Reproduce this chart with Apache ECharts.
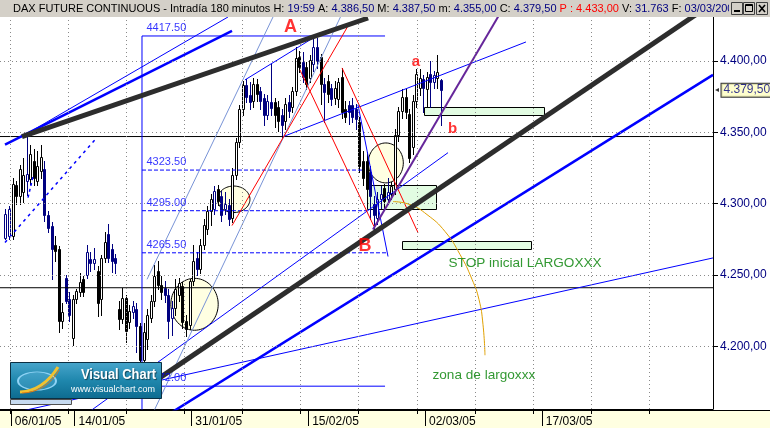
<!DOCTYPE html>
<html>
<head>
<meta charset="utf-8">
<title>DAX Future Continuous</title>
<script src="https://cdn.jsdelivr.net/npm/echarts@6.0.0/dist/echarts.min.js"></script>
<style>
html,body{margin:0;padding:0;background:#ffffff;overflow:hidden}
#chart{width:770px;height:428px}
</style>
</head>
<body>
<div id="chart"></div>
<script>
// ---------------- data ----------------
// 180-minute bars, 3 per trading day; day 0 = 06/01/05
const BAR_OPEN = [4276,4277,4277,4313,4305,4308,4316,4317,4330,4316,
4323,4324,4292,4284,4271,4268,4218,4248,4233,4206,
4233,4238,4247,4250,4261,4258,4253,4233,4262,4279,
4268,4262,4226,4219,4234,4217,4224,4226,4214,4190,
4205,4220,4232,4253,4243,4241,4236,4220,4227,4236,
4242,4218,4215,4246,4262,4254,4271,4282,4295,4296,
4310,4305,4296,4299,4290,4320,4343,4366,4383,4376,
4372,4384,4379,4374,4362,4371,4371,4368,4362,4358,
4371,4368,4379,4403,4399,4396,4388,4398,4410,4403,
4384,4386,4381,4374,4373,4389,4366,4369,4369,4366,
4357,4330,4330,4322,4300,4290,4303,4311,4303,4307,
4310,4348,4365,4375,4363,4340,4372,4381,4387,4380,
4391,4385,4388,4386.5];
const BAR_HIGH = [4296,4298,4318,4316,4327,4332,4348,4341,4338,4337,
4341,4330,4295,4287,4277,4270,4230,4250,4238,4236,
4240,4251,4249,4271,4266,4269,4256,4264,4280,4286,
4272,4265,4232,4241,4236,4229,4232,4230,4216,4216,
4226,4236,4257,4260,4249,4246,4240,4232,4247,4248,
4245,4222,4247,4271,4266,4275,4289,4298,4307,4312,
4313,4309,4308,4303,4325,4346,4369,4386,4387,4385,
4388,4387,4382,4377,4376,4398,4374,4372,4366,4374,
4376,4382,4410,4407,4406,4399,4404,4417.5,4416,4405,
4388,4390,4384,4386,4388,4395,4372,4372,4374,4370,
4361,4337,4336,4326,4305,4308,4312,4314,4318,4315,
4352,4368,4380,4380,4366,4376,4394,4394,4390,4392,
4400,4393,4404,4387.5];
const BAR_LOW = [4275,4275,4275,4300,4300,4301,4306,4314,4313,4313,
4318,4288,4280,4247,4260,4210,4213,4230,4218,4201,
4230,4235,4235,4248,4253,4254,4221,4222,4259,4259,
4252,4251,4212,4216,4203,4213,4220,4196,4172,4184,
4198,4217,4228,4240,4233,4231,4206,4208,4222,4232,
4213,4207,4212,4243,4250,4251,4268,4279,4285,4293,
4299,4288,4293,4285,4287,4317,4340,4362,4371,4366,
4368,4372,4366,4355,4359,4362,4354,4351,4347,4352,
4361,4364,4376,4392,4385,4380,4385,4393,4395,4370,
4357,4371,4369,4370,4368,4360,4357,4356,4357,4352,
4322,4313,4305,4289,4281,4286,4297,4297,4300,4303,
4307,4344,4360,4360,4329,4335,4368,4376,4364,4368,
4368,4381,4381,4355];
const BAR_CLOSE = [4293,4296,4314,4305,4324,4320,4321,4335,4318,4326,
4333,4292,4283,4268,4267,4218,4224,4232,4222,4233,
4238.5,4245,4238,4266,4258,4261,4230,4262,4273,4262,
4260,4258,4219,4234,4211,4225,4228,4214,4190,4210,
4222,4232,4249,4243,4238,4236,4218,4227,4240,4244,
4217,4212,4246,4260,4254,4271,4285,4295,4303,4309,
4302,4292,4300,4289,4320,4343,4366,4383,4375,4371,
4384,4377,4372,4362,4372,4367,4362,4358,4355,4370,
4365,4379,4402,4396,4389,4384,4401,4410,4400,4384,
4378,4377,4373,4381,4385,4364,4361,4364,4361,4359,
4326,4318,4310,4305,4292,4303,4307,4302,4308,4312,
4348,4365,4375,4364,4332,4372,4391,4388,4381,4389,
4385,4390,4392,4379.5];
// 1 = bar drawn in navy, 0 = bar drawn in black
const BAR_NAVY = [1,1,0,0,0,0,1,0,0,0,
0,1,1,1,0,0,0,1,1,0,
0,0,0,1,1,1,0,0,0,1,
1,1,0,0,0,0,1,1,0,0,
0,0,0,0,0,1,1,1,0,0,
0,0,0,0,1,0,0,0,0,1,
0,1,1,1,0,0,0,0,1,1,
0,0,1,1,1,1,0,0,1,0,
1,0,0,0,1,0,0,1,1,0,
1,0,1,0,0,0,0,1,1,1,
0,0,0,1,1,1,1,0,1,0,
0,0,0,0,0,0,0,0,1,0,
1,1,0,1];

const DATE_DAYS = [0, 6, 17, 28, 39, 50];
const DATE_LABELS = ['06/01/05', '14/01/05', '31/01/05', '15/02/05', '02/03/05', '17/03/05'];
const PRICE_TICKS = [4200, 4250, 4300, 4350, 4400];
const GRID_DAYS = [-0.075, 5.386, 10.847, 16.309, 21.77, 27.23, 32.69, 38.25, 43.71, 49.17, 54.63, 60.09];

const FIB_LEVELS = [4417.5, 4323.5, 4295.0, 4265.5, 4172.0];
const FIB_LABELS = ['4417.50', '4323.50', '4295.00', '4265.50', '4172.00'];
const FIB_START = 12.354;
const FIB_ENDS = [35.24, 33.07, 33.54, 35.52, 35.24];
const SUPPORT_LEVELS = [4347, 4241];

const TRENDS = {
  thickUpper:  [[1.05, 4347], [33.64, 4430.1]],
  thickLower:  [[12.17, 4168.5], [65.37, 4436.8]],
  blueFan:     [[-0.546, 4341.3], [20.83, 4421.0]],
  blueFanThin: [[0.866, 4346.2], [20.45, 4430.8]],
  blueLower:   [[14.52, 4150.7], [66.12, 4390.2]],
  thinLong:    [[0.866, 4154.3], [66.12, 4261.9]],
  thinMid:     [[7.27, 4153.4], [41.17, 4335.7]],
  thinTop:     [[25.63, 4346.9], [48.51, 4413.3]],
  thinChannel: [[22.05, 4386.7], [28.93, 4418.2]],
  steelA:      [[12.825, 4246.9], [24.69, 4430.8]],
  steelB:      [[13.39, 4153.2], [31.09, 4431.6]],
  redUp:       [[20.83, 4284.6], [31.75, 4424.5]],
  redDown1:    [[31.19, 4395.1], [38.34, 4279.7]],
  redDown2:    [[27.23, 4393.7], [34.20, 4283.9]],
  blueDrop:    [[32.69, 4369.2], [35.52, 4262.9]],
  purple:      [[34.105, 4281.8], [46.06, 4433.2]],
  dashDiag:    [[-0.546, 4272.7], [7.93, 4344.8]],
  dashShort:   [[1.62, 4304.2], [2.09, 4318.9]],
  fibSpine:    [[12.354, 4417.5], [12.354, 4150]]
};
// [dayFrom, priceLow, dayTo, priceHigh]
const ZONES = [[38.91, 4361.7, 50.21, 4367.6], [33.51, 4296.3, 40.01, 4312.8], [36.81, 4268.3, 48.92, 4273.6]];
// [day, price, radiusDays, radiusPrice]
const CIRCLES = [[17.30, 4229.4, 2.23, 18.2], [20.99, 4303.0, 1.53, 9.3], [35.31, 4328.5, 1.65, 14.0]];
const ARC = [[35.99, 4301.4], [37.59, 4299.3], [39.19, 4292.3], [40.89, 4280.4], [42.30, 4264.3],
             [43.43, 4246.9], [44.08, 4232.9], [44.46, 4215.4], [44.65, 4193.7]];
const NOTES_BIG = [['A', 26.34, 4423.8], ['B', 33.35, 4270.1]];
const NOTES_SMALL = [['a', 38.15, 4399.7], ['b', 41.59, 4352.1]];
const NOTES_GREEN = [['STOP inicial LARGOXXX', 41.17, 4258.0], ['zona de largoxxx', 39.66, 4179.7]];

const TITLE_NAME = 'DAX FUTURE CONTINUOUS - Intradía 180 minutos';
const TITLE_FIELDS = [['H:', '19:59'], ['A:', '4.386,50'], ['M:', '4.387,50'], ['m:', '4.355,00'], ['C:', '4.379,50']];
const TITLE_PREV = 'P : 4.433,00';
const TITLE_TAIL = [['V:', '31.763'], ['F:', '03/03/2005']];

// ---------------- layout / style ----------------
const X_MIN = -1.017, X_MAX = 66.121;
const Y_MIN = 4156.0, Y_MAX = 4430.8;
const FONT = 'Liberation Sans, Arial, sans-serif';

const TREND_STYLE = {
  thickUpper:  {color: '#2d2d2d', width: 5},
  thickLower:  {color: '#2d2d2d', width: 5},
  blueFan:     {color: '#0000ff', width: 2.5},
  blueFanThin: {color: '#0000ff', width: 1},
  blueLower:   {color: '#0000ff', width: 2.5},
  thinLong:    {color: '#0000ff', width: 1},
  thinMid:     {color: '#0000ff', width: 1},
  thinTop:     {color: '#0000ff', width: 1},
  thinChannel: {color: '#0000ff', width: 1},
  steelA:      {color: '#7893d6', width: 1},
  steelB:      {color: '#7893d6', width: 1},
  redUp:       {color: '#ff0000', width: 1},
  redDown1:    {color: '#ff0000', width: 1},
  redDown2:    {color: '#ff0000', width: 1},
  blueDrop:    {color: '#0000ff', width: 1},
  purple:      {color: '#66269a', width: 2},
  dashDiag:    {color: '#0000ff', width: 1.5, type: [3, 4]},
  dashShort:   {color: '#0000ff', width: 1.5, type: [3, 3]},
  fibSpine:    {color: '#0000ff', width: 1}
};

function fmtPrice(v) {
  const s = Number(v).toFixed(2).split('.');
  return s[0].replace(/\B(?=(\d{3})+(?!\d))/g, '.') + ',' + s[1];
}

function lineSeries(data, st, z) {
  return {
    type: 'line', data: data, showSymbol: false, symbol: 'none', silent: true, clip: true,
    z: z, animation: false,
    lineStyle: {color: st.color, width: st.width, type: st.type || 'solid'}
  };
}

const candleData = BAR_OPEN.map((o, i) => [(i - 1.5) / 3, o, BAR_CLOSE[i], BAR_LOW[i], BAR_HIGH[i], BAR_NAVY[i]]);

function renderCandle(params, api) {
  const x = api.value(0), o = api.value(1), c = api.value(2), l = api.value(3), h = api.value(4);
  const navy = api.value(5);
  const pO = api.coord([x, o]), pC = api.coord([x, c]), pL = api.coord([x, l]), pH = api.coord([x, h]);
  const cx = Math.round(pO[0]);
  const col = navy ? '#000080' : '#000000';
  const up = c >= o;
  const top = Math.round(Math.min(pO[1], pC[1])) + 0.5;
  const bot = Math.round(Math.max(pO[1], pC[1])) + 0.5;
  return {
    type: 'group',
    children: [
      {type: 'line', shape: {x1: cx + 0.5, y1: Math.round(pH[1]), x2: cx + 0.5, y2: Math.round(pL[1]) + 1},
       style: {stroke: col, lineWidth: 1}},
      {type: 'rect', shape: {x: cx - 0.5, y: top, width: 2, height: Math.max(bot - top, 1)},
       style: {fill: up ? '#ffffff' : col, stroke: col, lineWidth: 1}}
    ]
  };
}

function renderCircle(params, api) {
  const c = api.coord([api.value(0), api.value(1)]);
  const s = api.size([api.value(2), api.value(3)]);
  const pts = [];
  for (let k = 0; k < 72; k++) {
    const a = k / 72 * Math.PI * 2;
    pts.push([c[0] + s[0] * Math.cos(a), c[1] + s[1] * Math.sin(a)]);
  }
  return {type: 'polygon', shape: {points: pts}, style: {fill: '#ffffe2', stroke: '#000000', lineWidth: 1}};
}

function renderZone(params, api) {
  const p1 = api.coord([api.value(0), api.value(3)]);
  const p2 = api.coord([api.value(2), api.value(1)]);
  const x = Math.round(p1[0]) + 0.5, y = Math.round(p1[1]) + 0.5;
  return {type: 'rect', shape: {x: x, y: y, width: Math.round(p2[0] - p1[0]), height: Math.round(p2[1] - p1[1])},
          style: {fill: '#e2fce2', stroke: '#000000', lineWidth: 1}};
}

function noteSeries(list, label, z) {
  return {
    type: 'scatter', symbolSize: 1, silent: true, z: z, animation: false, clip: false,
    itemStyle: {color: 'transparent'},
    data: list.map(n => ({name: n[0], value: [n[1], n[2]]})),
    label: Object.assign({show: true, formatter: '{b}', fontFamily: FONT}, label)
  };
}

const series = [];
// dotted grid
series.push({
  type: 'line', data: [], silent: true, z: 1, animation: false,
  markLine: {
    silent: true, symbol: ['none', 'none'], animation: false, label: {show: false},
    lineStyle: {color: '#8a8a8a', width: 1, type: [1, 3]},
    emphasis: {disabled: true},
    data: PRICE_TICKS.map(v => ({yAxis: v})).concat(GRID_DAYS.map(v => ({xAxis: v})))
  }
});
series.push({type: 'custom', renderItem: renderCircle, data: CIRCLES, z: 2, silent: true, clip: true, animation: false, encode: {x: 0, y: 1}});
series.push({type: 'custom', renderItem: renderZone, data: ZONES, z: 2, silent: true, clip: true, animation: false, encode: {x: 0, y: 1}});
series.push({type: 'custom', renderItem: renderCandle, data: candleData, z: 3, silent: true, clip: true, animation: false, encode: {x: 0, y: [1, 2, 3, 4]}});
// support lines
SUPPORT_LEVELS.forEach(v => series.push(lineSeries([[X_MIN, v], [X_MAX, v]], {color: '#000000', width: 1}, 4)));
// fibonacci lines
FIB_LEVELS.forEach((v, k) => {
  const dashed = k > 0 && k < FIB_LEVELS.length - 1;
  series.push(lineSeries([[FIB_START, v], [FIB_ENDS[k], v]], {color: '#0000ff', width: 1, type: dashed ? [4, 2] : 'solid'}, 4));
});
Object.keys(TRENDS).forEach(k => {
  const st = TREND_STYLE[k];
  series.push(lineSeries(TRENDS[k], st, st.width >= 5 ? 5 : 4));
});
series.push(Object.assign(lineSeries(ARC, {color: '#e0a000', width: 1}, 4), {smooth: true}));
// notes
series.push(noteSeries(NOTES_BIG, {position: 'inside', color: '#ff0000', fontSize: 18, fontWeight: 'bold'}, 6));
series.push(noteSeries(NOTES_SMALL, {position: 'inside', color: '#ff0000', fontSize: 15, fontWeight: 'bold'}, 6));
series.push(noteSeries(NOTES_GREEN, {position: 'right', distance: 0, color: '#008000', fontSize: 13.6}, 6));
series.push(noteSeries(FIB_LEVELS.map((v, k) => [FIB_LABELS[k], FIB_START, v]),
  {position: 'right', distance: 4, offset: [0, -8], color: '#0000ff', fontSize: 11}, 6));
// last price tag on the price axis
const LAST = BAR_CLOSE[BAR_CLOSE.length - 1];
series.push(noteSeries([[fmtPrice(LAST), X_MAX, LAST]],
  {position: 'right', distance: 8, color: '#000080', fontSize: 12, backgroundColor: '#ffffc0',
   borderColor: '#000000', borderWidth: 1, padding: [1, 2, 0, 2]}, 7));
series.push(noteSeries([['◂', X_MAX, LAST]], {position: 'right', distance: 1, color: '#000000', fontSize: 8}, 7));

const titleRich = '{k|' + TITLE_NAME + ' }' +
  TITLE_FIELDS.map(f => '{k|' + f[0] + ' }{v|' + f[1] + '}').join('{k| }') +
  '{k| }{r|' + TITLE_PREV + '}{k| }' +
  TITLE_TAIL.map(f => '{k|' + f[0] + ' }{v|' + f[1] + '}').join('{k| }');

const TOP = 100;
const option = {
  backgroundColor: '#ffffff',
  animation: false,
  grid: {left: 0, right: 57, top: 17, bottom: 18, containLabel: false},
  xAxis: [
    {
      type: 'value', min: X_MIN, max: X_MAX, position: 'bottom',
      axisLine: {show: true, onZero: false, lineStyle: {color: '#000000', width: 1}},
      splitLine: {show: false},
      axisTick: {show: true, customValues: DATE_DAYS, length: 17, lineStyle: {color: '#000000'}},
      axisLabel: {
        show: true, customValues: DATE_DAYS, align: 'left', margin: 7,
        padding: [0, 0, 0, 4], color: '#000000', fontSize: 12, fontFamily: FONT,
        formatter: v => { const k = DATE_DAYS.indexOf(Math.round(v)); return k >= 0 ? DATE_LABELS[k] : ''; }
      }
    },
    {
      type: 'value', min: X_MIN, max: X_MAX, position: 'bottom',
      axisLine: {show: false, onZero: false}, splitLine: {show: false},
      axisTick: {show: true, customValues: GRID_DAYS, length: 5, lineStyle: {color: '#000000'}},
      axisLabel: {show: false}
    }
  ],
  yAxis: [{
    type: 'value', min: Y_MIN, max: Y_MAX, position: 'right', scale: true,
    axisLine: {show: true, onZero: false, lineStyle: {color: '#000000', width: 1}},
    splitLine: {show: false},
    axisTick: {show: true, customValues: PRICE_TICKS, length: 5, lineStyle: {color: '#000000'}},
    axisLabel: {show: true, customValues: PRICE_TICKS, margin: 7, color: '#000080', fontSize: 12, fontFamily: FONT,
                formatter: v => fmtPrice(v)}
  }],
  series: series,
  graphic: [
    // bottom date strip
    {type: 'rect', z: -5, shape: {x: 0, y: 410, width: 770, height: 18}, style: {fill: '#ffffe1'}, silent: true},
    {type: 'line', z: -4, shape: {x1: 0, y1: 410.5, x2: 770, y2: 410.5}, style: {stroke: '#000000', lineWidth: 1}, silent: true},
    // title bar
    {type: 'rect', z: TOP, shape: {x: 0, y: 0, width: 770, height: 17}, style: {fill: '#d4d0c8'}, silent: true},
    {type: 'text', z: TOP + 1, x: 13, y: 8.5, silent: true,
     style: {text: titleRich, verticalAlign: 'middle', font: '11px ' + FONT,
             rich: {k: {fill: '#000000', font: '11px ' + FONT}, v: {fill: '#000080', font: '11px ' + FONT}, r: {fill: '#ff0000', font: '11px ' + FONT}}}},
    {type: 'rect', z: TOP + 2, shape: {x: 729, y: 0, width: 41, height: 17}, style: {fill: '#d4d0c8'}, silent: true},
    {type: 'rect', z: TOP + 3, shape: {x: 731.5, y: 2.5, width: 11, height: 12}, style: {fill: '#d4d0c8', stroke: '#404040', lineWidth: 1}, silent: true},
    {type: 'rect', z: TOP + 4, shape: {x: 734, y: 10, width: 6, height: 2}, style: {fill: '#000000'}, silent: true},
    {type: 'rect', z: TOP + 3, shape: {x: 743.5, y: 2.5, width: 11, height: 12}, style: {fill: '#d4d0c8', stroke: '#404040', lineWidth: 1}, silent: true},
    {type: 'rect', z: TOP + 4, shape: {x: 745.5, y: 4.5, width: 7, height: 7}, style: {fill: 'none', stroke: '#000000', lineWidth: 1}, silent: true},
    {type: 'line', z: TOP + 4, shape: {x1: 745.5, y1: 5.5, x2: 752.5, y2: 5.5}, style: {stroke: '#000000', lineWidth: 1}, silent: true},
    {type: 'rect', z: TOP + 3, shape: {x: 756.5, y: 2.5, width: 11, height: 12}, style: {fill: '#d4d0c8', stroke: '#404040', lineWidth: 1}, silent: true},
    {type: 'line', z: TOP + 4, shape: {x1: 759, y1: 5, x2: 765, y2: 12}, style: {stroke: '#000000', lineWidth: 1.6}, silent: true},
    {type: 'line', z: TOP + 4, shape: {x1: 765, y1: 5, x2: 759, y2: 12}, style: {stroke: '#000000', lineWidth: 1.6}, silent: true},
    // Visual Chart watermark
    {type: 'rect', z: TOP, silent: true, shape: {x: 10.5, y: 399.5, width: 61, height: 5}, style: {fill: '#c6daf0', stroke: '#505050', lineWidth: 1}},
    {type: 'rect', z: TOP + 1, silent: true, shape: {x: 10.5, y: 362.5, width: 151, height: 36},
     style: {fill: new echarts.graphic.LinearGradient(0, 0, 0, 1, [
       {offset: 0, color: '#48a6cc'}, {offset: 0.5, color: '#1f87ad'}, {offset: 1, color: '#0d6b8f'}]),
       stroke: '#0b2f42', lineWidth: 1}},
    {type: 'circle', z: TOP + 2, silent: true, x: 37, y: 381, scaleY: 0.48, shape: {cx: 0, cy: 0, r: 19},
     style: {fill: 'rgba(120,200,240,0.25)', stroke: '#8fd3f5', lineWidth: 2}},
    {type: 'bezierCurve', z: TOP + 3, silent: true, shape: {x1: 20, y1: 392, cpx1: 38, cpy1: 391, cpx2: 50, cpy2: 380, x2: 58, y2: 367},
     style: {stroke: '#f2c230', lineWidth: 3, fill: 'none'}},
    {type: 'bezierCurve', z: TOP + 3, silent: true, shape: {x1: 22, y1: 393, cpx1: 38, cpy1: 393, cpx2: 52, cpy2: 383, x2: 59, y2: 370},
     style: {stroke: '#e07a10', lineWidth: 1, fill: 'none'}},
    {type: 'text', z: TOP + 3, silent: true, x: 71, y: 374.5, scaleX: 0.86, originX: 71,
     style: {text: 'Visual Chart', font: 'bold 15px ' + FONT, fill: '#ffffff', verticalAlign: 'middle',
             textShadowColor: 'rgba(0,0,0,0.5)', textShadowBlur: 1, textShadowOffsetX: 1, textShadowOffsetY: 1}},
    {type: 'text', z: TOP + 3, silent: true, x: 71, y: 389.5,
     style: {text: 'www.visualchart.com', font: '9px ' + FONT, fill: '#ffffff', verticalAlign: 'middle'}}
  ]
};

const chart = echarts.init(document.getElementById('chart'), null, {renderer: 'canvas', width: 770, height: 428});
chart.setOption(option);
</script>
</body>
</html>
